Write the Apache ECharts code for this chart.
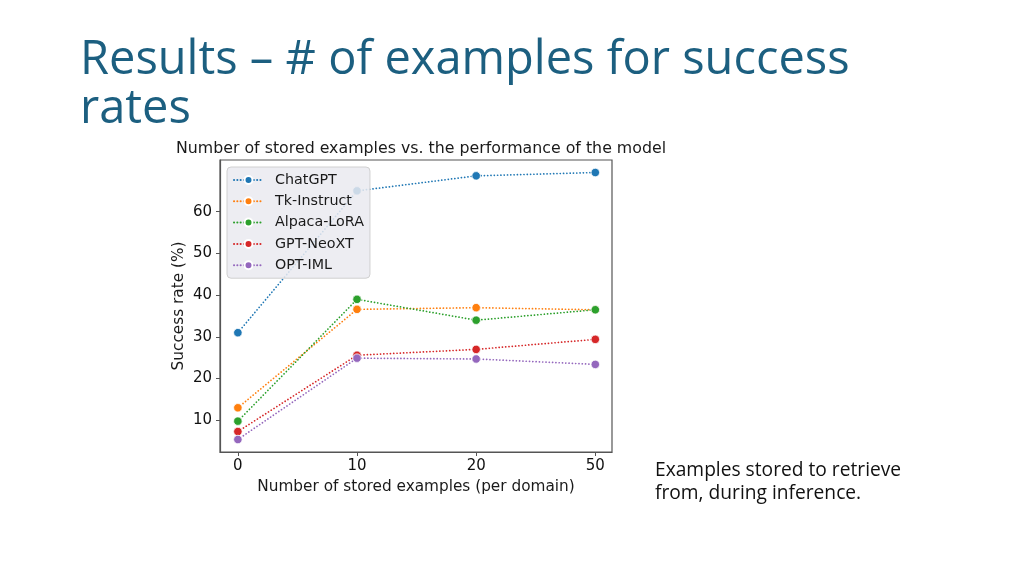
<!DOCTYPE html>
<html>
<head>
<meta charset="utf-8">
<script src="https://cdn.jsdelivr.net/npm/echarts@6/dist/echarts.min.js"></script>
<style>
html,body{margin:0;padding:0;background:#fff;}
#main{width:1024px;height:575px;}
</style>
</head>
<body>
<div id="main"></div>
<script>
const categories = ['0', '10', '20', '50'];
const seriesNames = ['ChatGPT', 'Tk-Instruct', 'Alpaca-LoRA', 'GPT-NeoXT', 'OPT-IML'];
const chatgpt = [31.0, 65.0, 68.6, 69.4];
const tkInstruct = [13.0, 36.6, 37.0, 36.5];
const alpacaLora = [9.8, 39.0, 34.0, 36.5];
const gptNeoxt = [7.3, 25.6, 27.0, 29.4];
const optIml = [5.4, 24.9, 24.7, 23.4];
const yTicks = [10, 20, 30, 40, 50, 60];
const colors = ['#1f77b4', '#ff7f0e', '#2ca02c', '#d62728', '#9467bd'];

const seriesValues = [chatgpt, tkInstruct, alpacaLora, gptNeoxt, optIml];
const xIdx = categories.map((c, i) => i);
const FONT = '"DejaVu Sans"';
const SLIDE_FONT = '"Open Sans"';

const chart = echarts.init(document.getElementById('main'), null, {renderer: 'canvas'});
chart.setOption({
  backgroundColor: '#ffffff',
  animation: false,
  title: [
    {
      text: 'Results – # of examples for success\nrates',
      left: 75, top: 31,
      textStyle: {fontFamily: SLIDE_FONT, fontSize: 47, fontWeight: 'normal', color: '#1c5f80', lineHeight: 49}
    },
    {
      text: 'Number of stored examples vs. the performance of the model',
      left: 416, top: 136, textAlign: 'center',
      textStyle: {fontFamily: FONT, fontSize: 15.8, fontWeight: 'normal', color: '#1a1a1a'}
    },
    {
      text: 'Examples stored to retrieve\nfrom, during inference.',
      left: 650, top: 454,
      textStyle: {fontFamily: SLIDE_FONT, fontSize: 19.2, fontWeight: 'normal', color: '#111', lineHeight: 23}
    }
  ],
  grid: {
    left: 220, top: 160, width: 392, height: 292,
    show: true, borderColor: '#555', borderWidth: 1.2, backgroundColor: 'transparent'
  },
  legend: {
    orient: 'vertical',
    left: 227, top: 167,
    data: seriesNames,
    itemWidth: 29, itemHeight: 10, itemGap: 5.3,
    padding: [5, 6, 5, 6],
    backgroundColor: 'rgba(234,234,240,0.85)',
    borderColor: '#d0d0d0', borderWidth: 1, borderRadius: 4,
    textStyle: {fontFamily: FONT, fontSize: 14.3, color: '#1a1a1a', lineHeight: 16, padding: [0, 0, 0, 7]}
  },
  xAxis: {
    type: 'value', min: -0.15, max: 3.14,
    name: 'Number of stored examples (per domain)',
    nameLocation: 'middle', nameGap: 28,
    nameTextStyle: {fontFamily: FONT, fontSize: 15.3, color: '#1a1a1a'},
    axisLine: {show: true, onZero: false, lineStyle: {color: '#555', width: 1.2}},
    axisTick: {show: true, length: 4, customValues: xIdx, lineStyle: {color: '#555'}},
    axisLabel: {
      show: true, customValues: xIdx, margin: 7,
      fontFamily: FONT, fontSize: 15, color: '#111',
      formatter: v => categories[Math.round(v)]
    },
    splitLine: {show: false}
  },
  yAxis: {
    type: 'value', min: 2.4, max: 72.4,
    name: 'Success rate (%)',
    nameLocation: 'middle', nameGap: 33, nameRotate: 90,
    nameTextStyle: {fontFamily: FONT, fontSize: 15.3, color: '#1a1a1a'},
    axisLine: {show: true, onZero: false, lineStyle: {color: '#555', width: 1.2}},
    axisTick: {show: true, length: 4, customValues: yTicks, lineStyle: {color: '#555'}},
    axisLabel: {
      show: true, customValues: yTicks, margin: 8,
      fontFamily: FONT, fontSize: 15, color: '#111'
    },
    splitLine: {show: false}
  },
  series: seriesNames.map((name, k) => ({
    name: name,
    type: 'line',
    data: seriesValues[k].map((v, i) => [xIdx[i], v]),
    symbol: 'circle', symbolSize: 8.5,
    color: colors[k],
    itemStyle: {color: colors[k], borderColor: '#fff', borderWidth: 0.8},
    lineStyle: {color: colors[k], width: 1.7, type: [0.1, 3.2], cap: 'round'},
    z: 2
  }))
});
</script>
</body>
</html>
